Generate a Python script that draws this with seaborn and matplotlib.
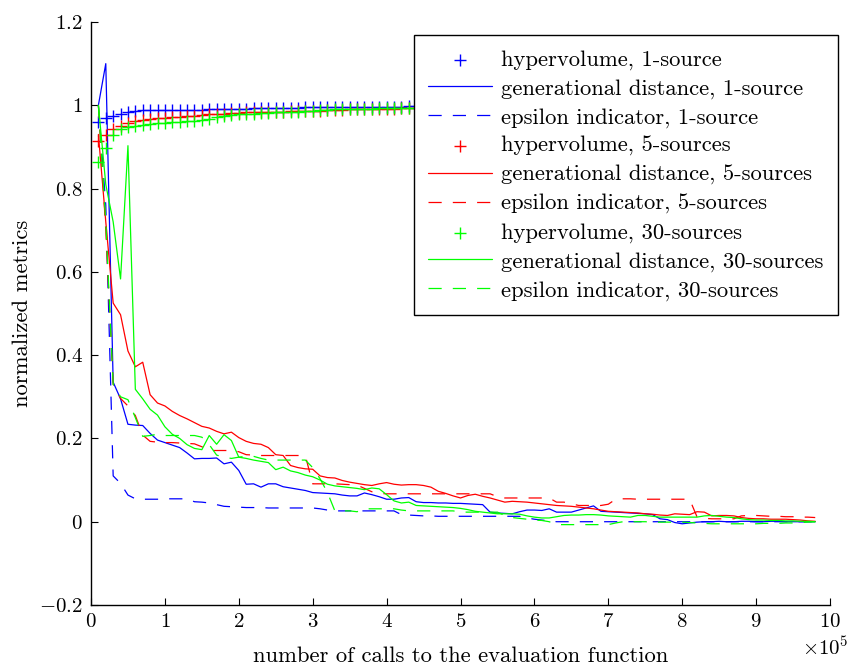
import numpy as np
import matplotlib
matplotlib.use('Agg')
import matplotlib.pyplot as plt
import seaborn as sns
from matplotlib.ticker import FuncFormatter

# evaluation counts (one sample every 1e4 calls)
calls = np.arange(1, 99) * 1e4

# hypervolume
hv_1 = [0.961, 0.969, 0.975, 0.980, 0.985, 0.987, 0.988, 0.988, 0.988, 0.988,
        0.989, 0.989, 0.989, 0.989, 0.989, 0.990, 0.990, 0.991, 0.991, 0.992,
        0.992, 0.993, 0.993, 0.993, 0.994, 0.994, 0.994, 0.994, 0.995, 0.995,
        0.995, 0.995, 0.995, 0.996, 0.996, 0.996, 0.996, 0.997, 0.997, 0.997,
        0.997, 0.997, 0.998, 0.998, 0.998, 0.998, 0.998, 0.998, 0.998, 0.999,
        0.999, 0.999, 0.999, 0.999, 0.999, 0.999, 0.999, 0.999, 0.999, 0.999,
        0.999, 0.999, 0.999, 0.999, 1.000, 1.000, 1.000, 1.000, 1.000, 1.000,
        1.000, 1.000, 1.000, 1.000, 1.000, 1.000, 1.000, 1.000, 1.000, 1.000,
        1.000, 1.000, 1.000, 1.000, 1.000, 1.000, 1.000, 1.000, 1.000, 1.000,
        1.000, 1.000, 1.000, 1.000, 1.000, 1.000, 1.000, 1.000]
hv_5 = [0.914, 0.929, 0.944, 0.950, 0.958, 0.962, 0.965, 0.968, 0.969, 0.970,
        0.971, 0.973, 0.974, 0.975, 0.977, 0.978, 0.979, 0.980, 0.981, 0.982,
        0.983, 0.983, 0.984, 0.984, 0.985, 0.985, 0.986, 0.986, 0.986, 0.987,
        0.987, 0.988, 0.989, 0.989, 0.990, 0.990, 0.990, 0.991, 0.991, 0.992,
        0.992, 0.993, 0.993, 0.993, 0.994, 0.994, 0.994, 0.995, 0.995, 0.995,
        0.995, 0.996, 0.996, 0.996, 0.996, 0.997, 0.997, 0.997, 0.997, 0.997,
        0.998, 0.998, 0.998, 0.998, 0.998, 0.998, 0.998, 0.998, 0.998, 0.998,
        0.998, 0.998, 0.998, 0.999, 0.999, 0.999, 0.999, 0.999, 0.999, 0.999,
        0.999, 0.999, 0.999, 0.999, 0.999, 0.999, 0.999, 0.999, 0.999, 0.999,
        0.999, 0.999, 0.999, 0.999, 0.999, 0.999, 0.999, 0.999]
hv_30 = [0.864, 0.898, 0.929, 0.942, 0.948, 0.950, 0.953, 0.956, 0.957, 0.958,
         0.959, 0.960, 0.962, 0.963, 0.965, 0.968, 0.971, 0.974, 0.976, 0.978,
         0.979, 0.980, 0.981, 0.982, 0.983, 0.984, 0.984, 0.985, 0.986, 0.987,
         0.988, 0.989, 0.990, 0.990, 0.991, 0.991, 0.992, 0.992, 0.993, 0.993,
         0.993, 0.994, 0.994, 0.994, 0.995, 0.995, 0.995, 0.995, 0.996, 0.996,
         0.996, 0.996, 0.996, 0.997, 0.997, 0.997, 0.997, 0.997, 0.997, 0.997,
         0.998, 0.998, 0.998, 0.998, 0.998, 0.998, 0.998, 0.998, 0.998, 0.998,
         0.998, 0.998, 0.998, 0.998, 0.998, 0.998, 0.998, 0.998, 0.998, 0.998,
         0.998, 0.998, 0.998, 0.998, 0.998, 0.998, 0.998, 0.998, 0.998, 0.998,
         0.998, 0.998, 0.998, 0.998, 0.998, 0.998, 0.998, 0.998]

# generational distance
gd_1 = [1.000, 1.100, 0.335, 0.295, 0.234, 0.232, 0.231, 0.212, 0.196, 0.190,
        0.184, 0.178, 0.165, 0.151, 0.152, 0.152, 0.153, 0.139, 0.143, 0.123,
        0.090, 0.091, 0.083, 0.091, 0.091, 0.084, 0.081, 0.078, 0.075, 0.070,
        0.069, 0.068, 0.067, 0.064, 0.062, 0.062, 0.069, 0.065, 0.060, 0.054,
        0.054, 0.057, 0.058, 0.048, 0.046, 0.046, 0.045, 0.045, 0.044, 0.044,
        0.043, 0.042, 0.041, 0.023, 0.021, 0.020, 0.019, 0.024, 0.028, 0.028,
        0.027, 0.031, 0.023, 0.023, 0.023, 0.028, 0.033, 0.038, 0.025, 0.024,
        0.023, 0.022, 0.021, 0.020, 0.019, 0.017, 0.007, 0.005, -0.002, -0.005,
        -0.003, -0.001, 0.000, 0.000, 0.001, 0.000, 0.000, 0.001, 0.001, 0.000,
        0.000, 0.001, 0.001, 0.000, 0.000, 0.000, 0.000, 0.000]
gd_5 = [0.930, 0.720, 0.525, 0.497, 0.410, 0.372, 0.383, 0.305, 0.285, 0.278,
        0.265, 0.255, 0.247, 0.238, 0.229, 0.225, 0.217, 0.211, 0.215, 0.202,
        0.193, 0.188, 0.186, 0.178, 0.161, 0.159, 0.135, 0.130, 0.127, 0.126,
        0.110, 0.106, 0.105, 0.099, 0.095, 0.092, 0.089, 0.087, 0.091, 0.094,
        0.090, 0.088, 0.089, 0.089, 0.087, 0.083, 0.073, 0.068, 0.062, 0.057,
        0.063, 0.066, 0.061, 0.057, 0.052, 0.047, 0.049, 0.048, 0.047, 0.045,
        0.043, 0.041, 0.039, 0.038, 0.037, 0.035, 0.033, 0.031, 0.028, 0.025,
        0.024, 0.023, 0.022, 0.021, 0.019, 0.018, 0.016, 0.015, 0.019, 0.018,
        0.017, 0.024, 0.023, 0.014, 0.015, 0.015, 0.014, 0.010, 0.008, 0.007,
        0.007, 0.006, 0.006, 0.006, 0.005, 0.004, 0.002, 0.001]
gd_30 = [1.000, 0.810, 0.720, 0.583, 0.903, 0.318, 0.295, 0.270, 0.256, 0.228,
         0.210, 0.200, 0.185, 0.176, 0.173, 0.207, 0.186, 0.209, 0.195, 0.155,
         0.152, 0.148, 0.145, 0.142, 0.125, 0.131, 0.122, 0.118, 0.112, 0.108,
         0.100, 0.090, 0.086, 0.084, 0.082, 0.080, 0.077, 0.081, 0.079, 0.065,
         0.050, 0.045, 0.047, 0.039, 0.038, 0.037, 0.036, 0.035, 0.034, 0.032,
         0.029, 0.025, 0.023, 0.021, 0.019, 0.019, 0.019, 0.018, 0.014, 0.011,
         0.009, 0.009, 0.012, 0.015, 0.016, 0.016, 0.017, 0.017, 0.016, 0.014,
         0.013, 0.012, 0.011, 0.015, 0.015, 0.013, 0.011, 0.011, 0.011, 0.011,
         0.011, 0.011, 0.014, 0.015, 0.013, 0.011, 0.010, 0.007, 0.005, 0.004,
         0.004, 0.003, 0.003, 0.002, 0.002, 0.001, 0.001, 0.000]

# epsilon indicator
eps_1 = [1.000, 0.760, 0.110, 0.092, 0.064, 0.055, 0.054, 0.054, 0.054, 0.055,
         0.055, 0.055, 0.055, 0.048, 0.047, 0.045, 0.041, 0.037, 0.036, 0.035,
         0.034, 0.034, 0.034, 0.033, 0.033, 0.033, 0.033, 0.033, 0.033, 0.033,
         0.031, 0.028, 0.026, 0.026, 0.026, 0.026, 0.026, 0.026, 0.026, 0.026,
         0.026, 0.017, 0.016, 0.015, 0.014, 0.014, 0.013, 0.013, 0.013, 0.013,
         0.013, 0.013, 0.013, 0.013, 0.013, 0.013, 0.013, 0.013, 0.009, 0.006,
         0.004, 0.002, 0.000, 0.000, 0.000, 0.000, 0.000, 0.000, 0.000, 0.000,
         0.000, 0.000, 0.000, 0.000, 0.000, 0.000, 0.000, 0.000, 0.000, 0.000,
         0.000, 0.000, 0.000, 0.000, 0.000, 0.000, 0.000, 0.000, 0.000, 0.000,
         0.000, 0.000, 0.000, 0.000, 0.000, 0.000, 0.000, 0.000]
eps_5 = [1.000, 0.700, 0.330, 0.296, 0.278, 0.255, 0.208, 0.193, 0.191, 0.190,
         0.190, 0.189, 0.188, 0.187, 0.180, 0.171, 0.171, 0.171, 0.171, 0.168,
         0.161, 0.160, 0.159, 0.159, 0.159, 0.159, 0.159, 0.159, 0.159, 0.091,
         0.091, 0.091, 0.091, 0.090, 0.089, 0.088, 0.080, 0.072, 0.068, 0.067,
         0.067, 0.067, 0.067, 0.067, 0.067, 0.067, 0.067, 0.067, 0.067, 0.067,
         0.067, 0.067, 0.067, 0.067, 0.060, 0.057, 0.057, 0.057, 0.057, 0.057,
         0.057, 0.057, 0.047, 0.047, 0.043, 0.039, 0.039, 0.039, 0.039, 0.042,
         0.054, 0.055, 0.055, 0.054, 0.054, 0.054, 0.054, 0.054, 0.054, 0.054,
         0.054, 0.012, 0.008, 0.007, 0.007, 0.007, 0.007, 0.014, 0.015, 0.015,
         0.014, 0.013, 0.013, 0.012, 0.012, 0.011, 0.011, 0.010]
eps_30 = [1.000, 0.720, 0.330, 0.300, 0.293, 0.250, 0.205, 0.207, 0.210, 0.207,
          0.207, 0.207, 0.207, 0.207, 0.203, 0.185, 0.160, 0.155, 0.152, 0.155,
          0.157, 0.157, 0.152, 0.148, 0.148, 0.148, 0.148, 0.148, 0.148, 0.130,
          0.103, 0.070, 0.026, 0.026, 0.026, 0.024, 0.031, 0.031, 0.031, 0.031,
          0.031, 0.028, 0.026, 0.026, 0.026, 0.026, 0.026, 0.026, 0.026, 0.023,
          0.023, 0.023, 0.023, 0.023, 0.023, 0.015, 0.010, 0.008, 0.006, 0.004,
          0.003, 0.000, -0.007, -0.007, -0.007, -0.007, -0.007, -0.007, -0.007, -0.007,
          -0.003, 0.000, 0.000, 0.000, 0.000, -0.001, -0.001, -0.001, -0.001, -0.001,
          -0.002, -0.003, -0.004, -0.005, -0.005, -0.005, -0.005, -0.005, -0.005, -0.005,
          -0.004, -0.004, -0.004, -0.003, -0.003, -0.002, -0.001, 0.000]

sources = ['1-source', '5-sources', '30-sources']
colors = ['#0000ff', '#ff0000', '#00ff00']
hv = [hv_1, hv_5, hv_30]
gd = [gd_1, gd_5, gd_30]
eps = [eps_1, eps_5, eps_30]

ytick_vals = [-0.2, 0, 0.2, 0.4, 0.6, 0.8, 1.0, 1.2]
ytick_labels = ['-0.2', '0', '0.2', '0.4', '0.6', '0.8', '1', '1.2']
xtick_vals = np.arange(0, 11) * 1e5

sns.set_style('ticks')
plt.rcParams['font.family'] = ['cmr10', 'DejaVu Serif']
plt.rcParams['mathtext.fontset'] = 'cm'
plt.rcParams['axes.formatter.use_mathtext'] = True
plt.rcParams['lines.scale_dashes'] = False
plt.rcParams['text.color'] = 'black'
plt.rcParams['axes.labelcolor'] = 'black'
plt.rcParams['xtick.color'] = 'black'
plt.rcParams['ytick.color'] = 'black'
plt.rcParams['axes.edgecolor'] = 'black'

fs = 15
fs_big = 16.3
dash = (0, (9.5, 8))

fig = plt.figure(figsize=(8.59, 6.68), dpi=100)
ax = fig.add_axes([91 / 859, 63 / 668, 739 / 859, 583 / 668])

z = 2
for src, c, h, g, e in zip(sources, colors, hv, gd, eps):
    sns.scatterplot(x=calls, y=h, marker='+', s=85, color=c, linewidth=1.0,
                    label=f'hypervolume, {src}', ax=ax, zorder=z)
    sns.lineplot(x=calls, y=g, color=c, lw=0.9, label=f'generational distance, {src}',
                 ax=ax, zorder=z + 1)
    sns.lineplot(x=calls, y=e, color=c, lw=0.9, linestyle=dash,
                 label=f'epsilon indicator, {src}', ax=ax, zorder=z + 2)
    z += 3

ax.set_xlim(0, 1e6)
ax.set_ylim(-0.2, 1.2)
ax.set_xticks(xtick_vals)
ax.ticklabel_format(axis='x', style='sci', scilimits=(5, 5), useMathText=True)
ax.set_yticks(ytick_vals)
ax.yaxis.set_major_formatter(FuncFormatter(lambda v, p: '$' + ytick_labels[p] + '$' if p is not None else ''))
ax.tick_params(direction='in', length=5, width=0.8, labelsize=fs, top=False, right=False, pad=6)
ax.xaxis.get_offset_text().set_fontsize(fs)
ax.xaxis.get_offset_text().set_x(1.025)
sns.despine(ax=ax)
for sp in ax.spines.values():
    sp.set_linewidth(1.0)

ax.set_xlabel('number of calls to the evaluation function', fontsize=fs_big, labelpad=11)
ax.set_ylabel('normalized metrics', fontsize=fs_big, labelpad=5)

leg = ax.legend(loc='upper right', bbox_to_anchor=(838 / 859, 1 - 35 / 668),
                bbox_transform=fig.transFigure, borderaxespad=0, fontsize=fs_big,
                handlelength=2.8, handletextpad=0.4, labelspacing=0.38,
                borderpad=0.65, fancybox=False, framealpha=1, edgecolor='black')
leg.get_frame().set_linewidth(1.0)
leg.set_zorder(100)

fig.savefig('out.png', dpi=100)
